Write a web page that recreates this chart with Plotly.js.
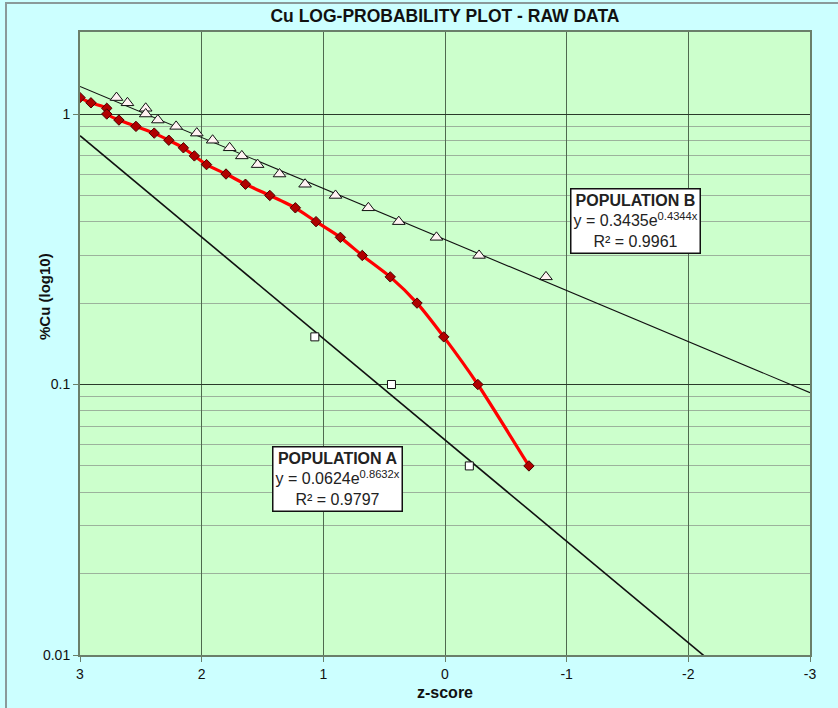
<!DOCTYPE html>
<html>
<head>
<meta charset="utf-8">
<script src="https://cdn.plot.ly/plotly-3.0.1.min.js"></script>
<style>
  html, body { margin: 0; padding: 0; background: #ccffff; }
  #chart { width: 838px; height: 708px; }
</style>
</head>
<body>
<div id="chart"></div>
<script>
// ---- Data ----
// Raw data (red diamonds)
const rawZ  = [3.00, 2.91, 2.78, 2.78, 2.68, 2.54, 2.39, 2.27, 2.15, 2.06, 1.96, 1.80, 1.64, 1.44, 1.23, 1.06, 0.86, 0.68, 0.45, 0.23, 0.01, -0.27, -0.69];
const rawCu = [1.15, 1.10, 1.05, 1.00, 0.95, 0.90, 0.85, 0.80, 0.75, 0.70, 0.65, 0.60, 0.55, 0.50, 0.45, 0.40, 0.35, 0.30, 0.25, 0.20, 0.15, 0.10, 0.05];

// Population B (triangles)
const popBZ  = [2.70, 2.61, 2.46, 2.46, 2.36, 2.21, 2.04, 1.91, 1.77, 1.67, 1.54, 1.36, 1.15, 0.90, 0.63, 0.38, 0.07, -0.28, -0.83];
const popBCu = [1.15, 1.10, 1.05, 1.00, 0.95, 0.90, 0.85, 0.80, 0.75, 0.70, 0.65, 0.60, 0.55, 0.50, 0.45, 0.40, 0.35, 0.30, 0.25];

// Population A (squares)
const popAZ  = [1.07, 0.44, -0.20];
const popACu = [0.15, 0.10, 0.05];

// Exponential trendline coefficients (from the chart labels): y = a * e^(b x)
const popAFit = {a: 0.0624, b: 0.8632, r2: '0.9797'};
const popBFit = {a: 0.3435, b: 0.4344, r2: '0.9961'};

// Axis ticks
const xTicks = [3, 2, 1, 0, -1, -2, -3];
const yTicks = [0.01, 0.1, 1];
const yTickText = ['0.01', '0.1', '1'];
const yMinor = [0.02,0.03,0.04,0.05,0.06,0.07,0.08,0.09,0.2,0.3,0.4,0.5,0.6,0.7,0.8,0.9,2];

// ---- Build ----
const trendX = [xTicks[0], xTicks[xTicks.length - 1]];
const fitY = (f) => trendX.map(x => f.a * Math.exp(f.b * x));

const sans = '"Liberation Sans", Arial, sans-serif';

const traces = [
  {x: trendX, y: fitY(popBFit), mode: 'lines', line: {color: '#111', width: 1.1}, hoverinfo: 'skip'},
  {x: trendX, y: fitY(popAFit), mode: 'lines', line: {color: '#111', width: 1.6}, hoverinfo: 'skip'},
  {x: popBZ, y: popBCu, mode: 'markers',
   marker: {symbol: 'triangle-up', size: 11, color: '#fff2f2', line: {color: '#111', width: 1}}},
  {x: popAZ, y: popACu, mode: 'markers',
   marker: {symbol: 'square', size: 8, color: '#ffffff', line: {color: '#111', width: 1}}},
  {x: rawZ, y: rawCu, mode: 'lines+markers',
   line: {color: '#ff0000', width: 3.2, shape: 'spline', smoothing: 0.6},
   marker: {symbol: 'diamond', size: 8, color: '#b00000', line: {color: '#4a0000', width: 1}}}
];

const L = 80, R = 810, T = 32, B = 655;
const px = (x) => (x - L) / (R - L);
const py = (y) => (B - y) / (B - T);

const layout = {
  width: 838, height: 708,
  margin: {l: L, r: 838 - R, t: T, b: 708 - B},
  paper_bgcolor: '#ccffff',
  plot_bgcolor: '#ccffcc',
  showlegend: false,
  title: {text: '<b>Cu LOG-PROBABILITY PLOT - RAW DATA</b>', font: {family: sans, size: 17.5, color: '#111'},
          x: 0.531, xanchor: 'center', y: 1 - 16/708, yanchor: 'middle'},
  xaxis: {
    range: [3, -3], autorange: false,
    tickmode: 'array', tickvals: xTicks, ticktext: xTicks.map(String),
    showgrid: true, gridcolor: '#4f6a4f', gridwidth: 1,
    zeroline: false,
    showline: true, linecolor: '#6a7f6a', linewidth: 2, mirror: true,
    ticks: 'outside', ticklen: 5, tickcolor: '#6a7f6a',
    tickfont: {family: sans, size: 14, color: '#111'},
    title: {text: '<b>z-score</b>', font: {family: sans, size: 16, color: '#111'}, standoff: 6}
  },
  yaxis: {
    type: 'log', range: [-2, Math.log10(2.01)], autorange: false,
    tickmode: 'array', tickvals: yTicks, ticktext: yTickText,
    showgrid: true, gridcolor: '#2a3a2a', gridwidth: 1,
    zeroline: false,
    showline: true, linecolor: '#6a7f6a', linewidth: 2, mirror: true,
    ticks: 'outside', ticklen: 5, tickcolor: '#6a7f6a',
    tickfont: {family: sans, size: 14, color: '#111'},
    minor: {tickmode: 'array', tickvals: yMinor, showgrid: true, gridcolor: '#9cb29c', gridwidth: 1, ticks: ''}
  },
  annotations: [
    {xref: 'paper', yref: 'paper', x: px(45), y: py(297), xanchor: 'center', yanchor: 'middle',
     textangle: -90, showarrow: false,
     text: '<b>%Cu (log10)</b>', font: {family: sans, size: 15, color: '#111'}},
    {xref: 'paper', yref: 'paper', x: px(635), y: py(221), xanchor: 'center', yanchor: 'middle', showarrow: false,
     text: '<b>POPULATION B</b><br>y = ' + popBFit.a + 'e<sup>' + popBFit.b + 'x</sup><br>R² = ' + popBFit.r2,
     font: {family: sans, size: 16, color: '#222'}, align: 'center',
     bgcolor: '#ffffff', bordercolor: '#111', borderwidth: 1.5, borderpad: 2},
    {xref: 'paper', yref: 'paper', x: px(337), y: py(479), xanchor: 'center', yanchor: 'middle', showarrow: false,
     text: '<b>POPULATION A</b><br>y = ' + popAFit.a + 'e<sup>' + popAFit.b + 'x</sup><br>R² = ' + popAFit.r2,
     font: {family: sans, size: 16, color: '#222'}, align: 'center',
     bgcolor: '#ffffff', bordercolor: '#111', borderwidth: 1.5, borderpad: 2}
  ],
  shapes: [
    {type: 'rect', xref: 'paper', yref: 'paper', x0: px(6), x1: px(845), y0: py(715), y1: py(3),
     line: {color: '#8a9a9a', width: 2}, fillcolor: 'rgba(0,0,0,0)', layer: 'below'}
  ]
};

Plotly.newPlot('chart', traces, layout, {displayModeBar: false, staticPlot: true});
</script>
</body>
</html>
